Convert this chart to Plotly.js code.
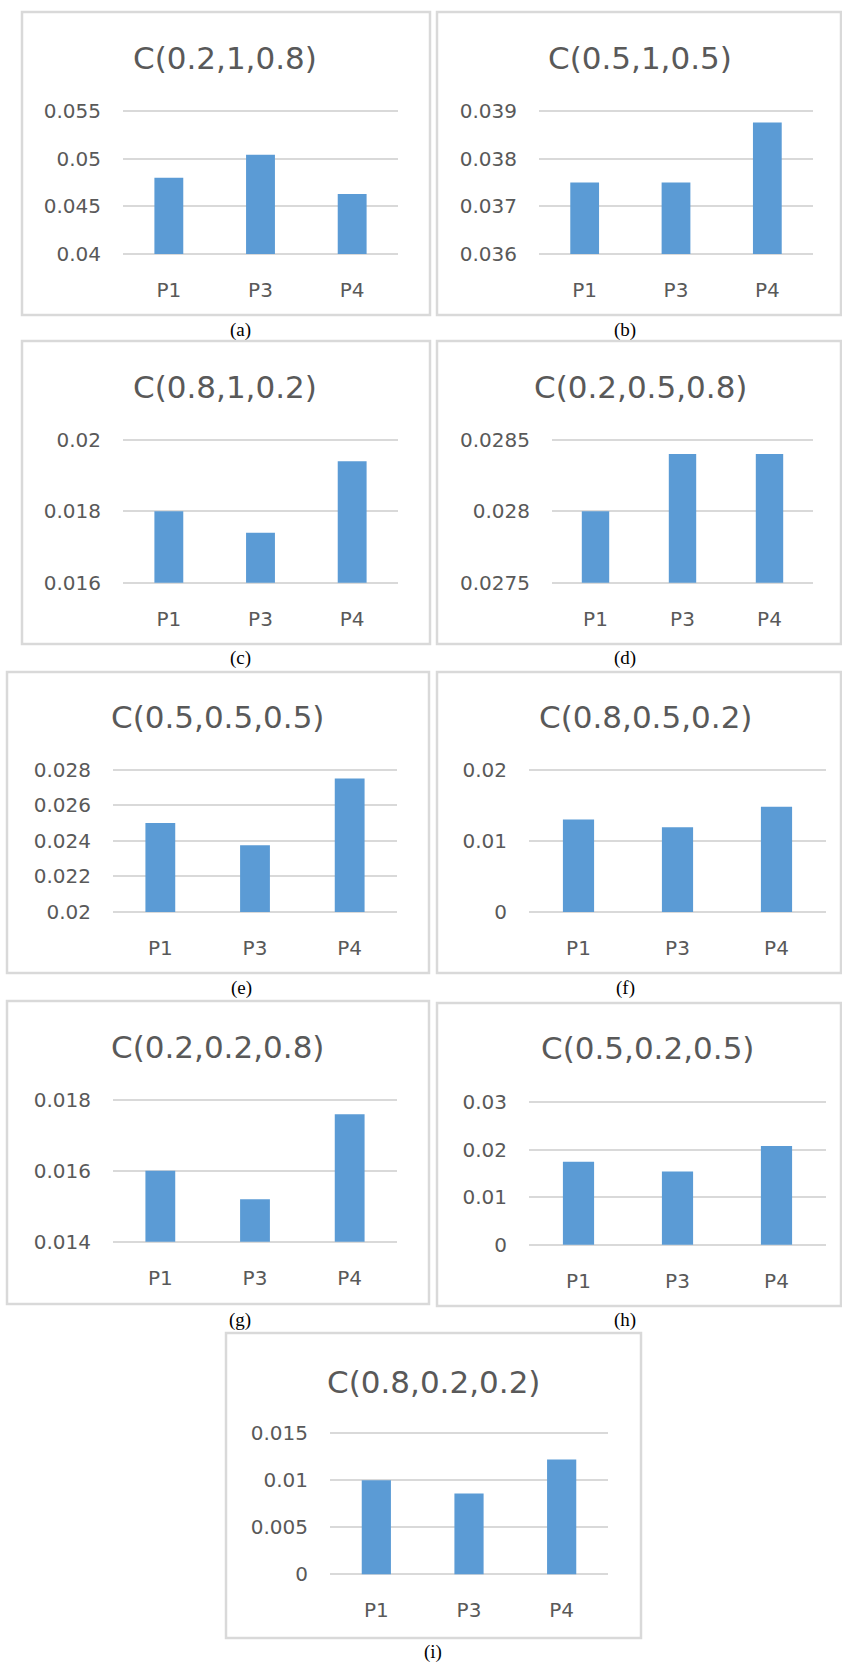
<!DOCTYPE html>
<html>
<head>
<meta charset="utf-8">
<script src="https://cdn.plot.ly/plotly-3.0.1.min.js"></script>
<style>
html,body{margin:0;padding:0;background:#fff;}
#chart{width:842px;height:1662px;}
</style>
</head>
<body>
<div id="chart"></div>
<script>
// ---- data ----
var categories = ['P1', 'P3', 'P4'];
var titles = ['C(0.2,1,0.8)', 'C(0.5,1,0.5)', 'C(0.8,1,0.2)', 'C(0.2,0.5,0.8)', 'C(0.5,0.5,0.5)',
              'C(0.8,0.5,0.2)', 'C(0.2,0.2,0.8)', 'C(0.5,0.2,0.5)', 'C(0.8,0.2,0.2)'];
var captions = ['(a)', '(b)', '(c)', '(d)', '(e)', '(f)', '(g)', '(h)', '(i)'];
var valuesA = [0.048, 0.0504, 0.0463];
var valuesB = [0.0375, 0.0375, 0.03876];
var valuesC = [0.018, 0.0174, 0.0194];
var valuesD = [0.028, 0.0284, 0.0284];
var valuesE = [0.025, 0.02375, 0.0275];
var valuesF = [0.013, 0.0119, 0.0148];
var valuesG = [0.016, 0.0152, 0.0176];
var valuesH = [0.0175, 0.0154, 0.0208];
var valuesI = [0.01, 0.0086, 0.0122];
var ticksA = [0.04, 0.045, 0.05, 0.055];
var ticksB = [0.036, 0.037, 0.038, 0.039];
var ticksC = [0.016, 0.018, 0.02];
var ticksD = [0.0275, 0.028, 0.0285];
var ticksE = [0.02, 0.022, 0.024, 0.026, 0.028];
var ticksF = [0, 0.01, 0.02];
var ticksG = [0.014, 0.016, 0.018];
var ticksH = [0, 0.01, 0.02, 0.03];
var ticksI = [0, 0.005, 0.01, 0.015];

var allValues = [valuesA, valuesB, valuesC, valuesD, valuesE, valuesF, valuesG, valuesH, valuesI];
var allTicks = [ticksA, ticksB, ticksC, ticksD, ticksE, ticksF, ticksG, ticksH, ticksI];

// ---- layout geometry (pixels) ----
var W = 842, H = 1662;
// panel frame [x0, x1, y0, y1]
var frames = [
  [22, 430, 12, 315], [437, 841, 12, 315],
  [22, 430, 341, 644], [437, 841, 341, 644],
  [7, 429, 672, 973], [437, 841, 672, 973],
  [7, 429, 1001, 1304], [437, 841, 1003, 1306],
  [226, 641, 1333, 1638]
];
// plot area [x0, x1, yTop, yBottom] (positions of the top/bottom gridlines)
var plots = [
  [123, 398, 111, 254], [539, 813, 111, 254],
  [123, 398, 439.7, 582.7], [552, 813, 439.7, 582.7],
  [113, 397, 769.7, 912], [529, 826, 769.7, 912],
  [113, 397, 1100, 1241.7], [529, 826, 1102.3, 1244.7],
  [330, 608, 1433.3, 1574.3]
];
var titlePos = [[225, 58], [640, 58], [225, 387], [640, 387], [218, 717], [645, 717],
                [218, 1047], [647, 1048], [433, 1382]];
var capPos = [[240, 330], [625, 330], [240, 658], [625, 658], [241, 988], [625, 988],
              [240, 1320], [625, 1320], [433, 1652]];

var textColor = '#595959';
var gridColor = '#d9d9d9';
var barColor = '#5b9bd5';
var fontFam = 'DejaVu Sans, Open Sans, sans-serif';
var padPx = 3; // extra room so edge gridlines are kept by plotly

function px(x) { return x / W; }
function py(y) { return 1 - y / H; }

var data = [];
var layout = {
  width: W, height: H,
  margin: {l: 0, r: 0, t: 0, b: 0},
  paper_bgcolor: '#ffffff', plot_bgcolor: '#ffffff',
  showlegend: false,
  bargap: 0.685,
  font: {family: fontFam, color: textColor},
  shapes: [], annotations: []
};

for (var i = 0; i < 9; i++) {
  var sfx = i === 0 ? '' : String(i + 1);
  var p = plots[i];
  var t = allTicks[i];
  var lo = t[0], hi = t[t.length - 1];
  var hPx = p[3] - p[2];
  var eps = (hi - lo) * padPx / hPx;
  data.push({
    type: 'bar', x: categories, y: allValues[i],
    base: lo,
    xaxis: 'x' + sfx, yaxis: 'y' + sfx,
    marker: {color: barColor, line: {width: 0}},
    hoverinfo: 'skip'
  });
  // bars are drawn from base lo; convert to heights relative to base
  data[i].y = allValues[i].map(function (v) { return v - lo; });
  layout['xaxis' + sfx] = {
    domain: [px(p[0]), px(p[1])], anchor: 'y' + sfx,
    showgrid: false, zeroline: false, showline: false,
    ticks: '', ticklabelstandoff: 16 + padPx,
    tickfont: {family: fontFam, size: 20, color: textColor},
    fixedrange: true
  };
  layout['yaxis' + sfx] = {
    domain: [py(p[3] + padPx), py(p[2] - padPx)], anchor: 'x' + sfx,
    range: [lo - eps, hi + eps],
    tickvals: t, ticktext: t.map(String),
    showgrid: true, gridcolor: gridColor, gridwidth: 2,
    zeroline: false, showline: false, ticks: '',
    ticklabelstandoff: 21,
    tickfont: {family: fontFam, size: 20, color: textColor},
    fixedrange: true
  };
  var f = frames[i];
  layout.shapes.push({
    type: 'rect', xref: 'paper', yref: 'paper',
    x0: px(f[0]), x1: px(f[1]), y0: py(f[3]), y1: py(f[2]),
    line: {color: gridColor, width: 2.5}, fillcolor: 'rgba(0,0,0,0)', layer: 'below'
  });
  layout.annotations.push({
    xref: 'paper', yref: 'paper', x: px(titlePos[i][0]), y: py(titlePos[i][1]),
    xanchor: 'center', yanchor: 'middle', showarrow: false,
    text: titles[i], font: {family: fontFam, size: 31, color: textColor}
  });
  layout.annotations.push({
    xref: 'paper', yref: 'paper', x: px(capPos[i][0]), y: py(capPos[i][1]),
    xanchor: 'center', yanchor: 'middle', showarrow: false,
    text: captions[i], font: {family: 'Liberation Serif, Times New Roman, serif', size: 19, color: '#000000'}
  });
}

Plotly.newPlot('chart', data, layout, {displayModeBar: false, staticPlot: true});
</script>
</body>
</html>
